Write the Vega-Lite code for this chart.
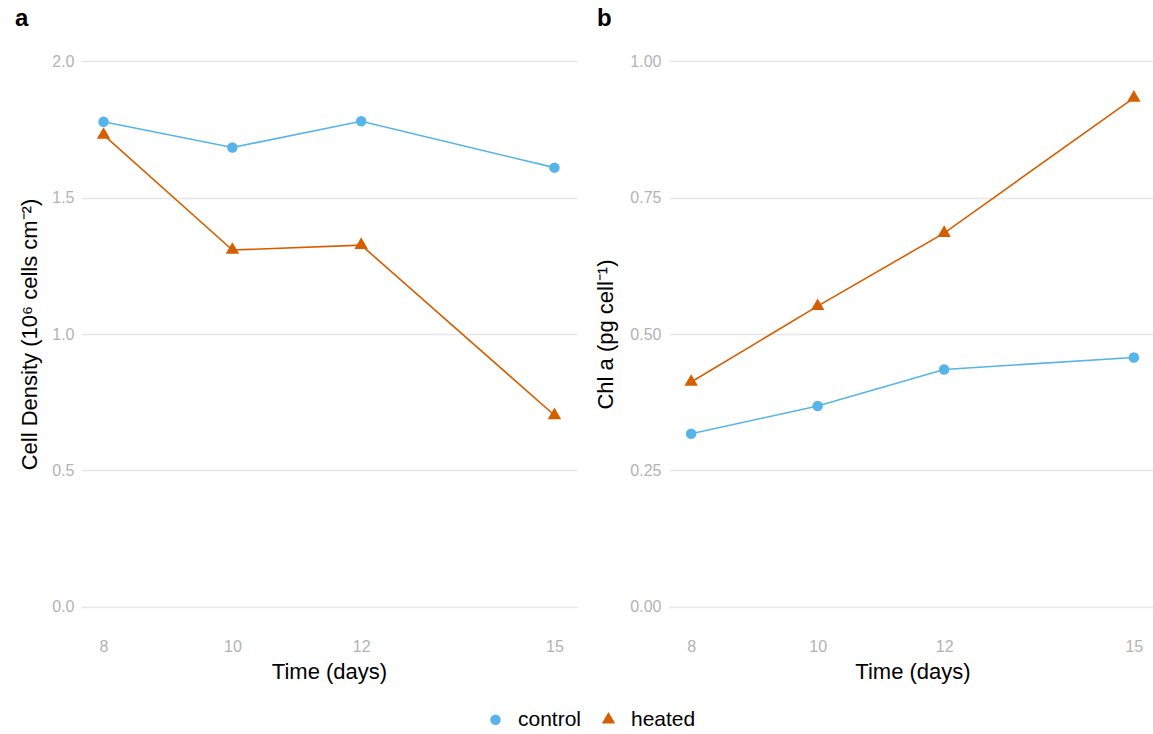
{
  "$schema": "https://vega.github.io/schema/vega-lite/v6.json",
  "background": "white",
  "padding": {"left": 15, "top": 7, "right": 0, "bottom": 0},
  "bounds": "flush",
  "spacing": 92,
  "config": {
    "font": "Liberation Sans",
    "view": {"stroke": null},
    "axis": {
      "domain": false,
      "ticks": false,
      "labelColor": "#b3b3b3",
      "labelFontSize": 16,
      "labelFont": "Liberation Sans",
      "titleFont": "Liberation Sans",
      "titleFontSize": 22,
      "titleFontWeight": "normal",
      "titleColor": "#000000",
      "gridColor": "#e6e6e6",
      "gridWidth": 1.3
    },
    "legend": {
      "orient": "none",
      "legendX": 404,
      "legendY": 675,
      "direction": "horizontal",
      "labelFont": "Liberation Sans",
      "labelFontSize": 21,
      "labelColor": "#000000",
      "labelOffset": 12,
      "columnPadding": 16,
      "symbolOpacity": 1
    },
    "title": {"fontSize": 24, "fontWeight": "bold", "anchor": "start", "color": "#000000", "frame": "group", "offset": 3}
  },
  "datasets": {
    "density": [
      {"day": 8, "value": 1.778, "treatment": "control"},
      {"day": 10, "value": 1.684, "treatment": "control"},
      {"day": 12, "value": 1.780, "treatment": "control"},
      {"day": 15, "value": 1.610, "treatment": "control"},
      {"day": 8, "value": 1.730, "treatment": "heated"},
      {"day": 10, "value": 1.308, "treatment": "heated"},
      {"day": 12, "value": 1.326, "treatment": "heated"},
      {"day": 15, "value": 0.702, "treatment": "heated"}
    ],
    "chla": [
      {"day": 8, "value": 0.317, "treatment": "control"},
      {"day": 10, "value": 0.368, "treatment": "control"},
      {"day": 12, "value": 0.435, "treatment": "control"},
      {"day": 15, "value": 0.457, "treatment": "control"},
      {"day": 8, "value": 0.412, "treatment": "heated"},
      {"day": 10, "value": 0.551, "treatment": "heated"},
      {"day": 12, "value": 0.685, "treatment": "heated"},
      {"day": 15, "value": 0.933, "treatment": "heated"}
    ]
  },
  "resolve": {"scale": {"color": "shared", "shape": "shared", "size": "shared"}},
  "hconcat": [
    {
      "title": {"text": "a", "dx": -66},
      "width": 496,
      "height": 600,
      "data": {"name": "density"},
      "encoding": {
        "x": {
          "field": "day", "type": "quantitative",
          "scale": {"domain": [7.65, 15.35], "nice": false, "zero": false},
          "axis": {"values": [8, 10, 12, 15], "grid": false, "title": "Time (days)", "labelPadding": 4, "titlePadding": 7}
        },
        "y": {
          "field": "value", "type": "quantitative",
          "scale": {"domain": [-0.1, 2.1], "nice": false, "zero": false},
          "axis": {"values": [0, 0.5, 1, 1.5, 2], "format": ".1f", "title": "Cell Density (10⁶ cells cm⁻²)", "labelPadding": 7, "titlePadding": 10}
        }
      },
      "layer": [
        {
          "transform": [{"filter": "datum.treatment === 'control'"}],
          "mark": {"type": "line", "strokeWidth": 1.6, "color": "#56B4E9"}
        },
        {
          "transform": [{"filter": "datum.treatment === 'heated'"}],
          "mark": {"type": "line", "strokeWidth": 1.6, "color": "#D55E00"}
        },
        {
          "mark": {"type": "point", "filled": true, "opacity": 1},
          "encoding": {
            "color": {"field": "treatment", "type": "nominal", "title": null, "scale": {"domain": ["control", "heated"], "range": ["#56B4E9", "#D55E00"]}},
            "shape": {"field": "treatment", "type": "nominal", "title": null, "scale": {"domain": ["control", "heated"], "range": ["circle", "M0,-1.155L1,0.577L-1,0.577Z"]}},
            "size": {"field": "treatment", "type": "nominal", "title": null, "scale": {"domain": ["control", "heated"], "range": [110, 180]}}
          }
        }
      ]
    },
    {
      "title": {"text": "b", "dx": -72},
      "width": 487,
      "height": 600,
      "data": {"name": "chla"},
      "encoding": {
        "x": {
          "field": "day", "type": "quantitative",
          "scale": {"domain": [7.65, 15.35], "nice": false, "zero": false},
          "axis": {"values": [8, 10, 12, 15], "grid": false, "title": "Time (days)", "labelPadding": 4, "titlePadding": 7}
        },
        "y": {
          "field": "value", "type": "quantitative",
          "scale": {"domain": [-0.05, 1.05], "nice": false, "zero": false},
          "axis": {"values": [0, 0.25, 0.5, 0.75, 1], "format": ".2f", "title": "Chl a (pg cell⁻¹)", "labelPadding": 8, "titlePadding": 12}
        }
      },
      "layer": [
        {
          "transform": [{"filter": "datum.treatment === 'control'"}],
          "mark": {"type": "line", "strokeWidth": 1.6, "color": "#56B4E9"}
        },
        {
          "transform": [{"filter": "datum.treatment === 'heated'"}],
          "mark": {"type": "line", "strokeWidth": 1.6, "color": "#D55E00"}
        },
        {
          "mark": {"type": "point", "filled": true, "opacity": 1},
          "encoding": {
            "color": {"field": "treatment", "type": "nominal", "title": null, "scale": {"domain": ["control", "heated"], "range": ["#56B4E9", "#D55E00"]}},
            "shape": {"field": "treatment", "type": "nominal", "title": null, "scale": {"domain": ["control", "heated"], "range": ["circle", "M0,-1.155L1,0.577L-1,0.577Z"]}},
            "size": {"field": "treatment", "type": "nominal", "title": null, "scale": {"domain": ["control", "heated"], "range": [110, 180]}}
          }
        }
      ]
    }
  ]
}
